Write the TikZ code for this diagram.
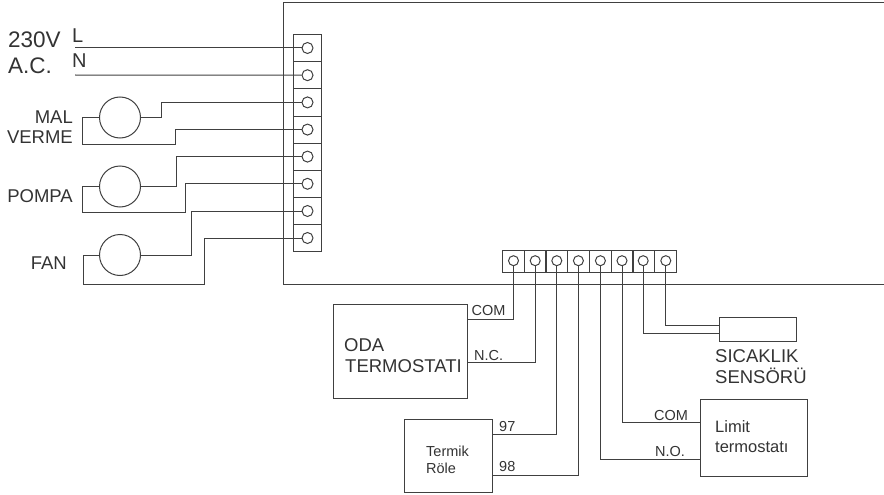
\documentclass[tikz,border=0pt]{standalone}
\usepackage{fontspec}
\setmainfont{Liberation Sans}
\definecolor{wire}{gray}{0.25}
\tikzset{
  wiring/.style={draw=wire,line width=1pt},
  cell/.style={draw=wire,line width=1pt,inner sep=0pt},
  term/.style={circle,draw=wire,line width=1pt,fill=white,inner sep=0pt,minimum size=11pt},
  box/.style={draw=wire,line width=1pt,inner sep=0pt},
  motor/.style={circle,draw=wire,line width=1pt,inner sep=0pt,minimum size=41pt},
  lab/.style={inner sep=0pt,text=black!80,align=left,font=\fontsize{18.5}{22}\selectfont},
  biglab/.style={inner sep=0pt,text=black!80,align=left,font=\fontsize{22.5}{26}\selectfont},
  small/.style={inner sep=0pt,text=black!80,font=\fontsize{14.5}{17}\selectfont},
}
\begin{document}
\begin{tikzpicture}[x=1pt,y=-1pt]
        \useasboundingbox (0,0) rectangle (884,495);
        % ana kutu
        \draw[wiring] (884,3) -- (283,3) -- (283,284.5) -- (884,284.5);
        % sol klemens
        \foreach \i/\y in {1/48,2/75.2,3/102.4,4/129.6,5/156.6,6/183.8,7/211,8/238}{
          \node[cell,minimum width=27.5pt,minimum height=27.2pt] (c\i) at (307.5,\y) {};
          \node[term] (t\i) at (307.5,\y) {};
        }
        % alt klemens
        \foreach \i/\x/\c in {1/513.5/513.4,2/535.2/535,3/556.8/557,4/578.4/578.8,5/600.4/600.7,6/622/622.2,7/643.2/643.4,8/665.8/665.4}{
          \node[cell,minimum width=21.75pt,minimum height=22pt] (b\i) at (\c,261) {};
          \node[term,minimum size=10pt] (s\i) at (\x,260.7) {};
        }
        % motorlar
        \node[motor] (mal) at (120,117.5) {};
        \node[motor] (pompa) at (120,186.5) {};
        \node[motor] (fan) at (120,255) {};
        % kutular
        \node[box,minimum width=134pt,minimum height=94pt] (oda) at (400,351) {};
        \node[box,minimum width=88pt,minimum height=73pt] (termik) at (448,455.5) {};
        \node[box,minimum width=77pt,minimum height=24pt] (sensor) at (757.5,329) {};
        \node[box,minimum width=107pt,minimum height=77pt] (limit) at (753.5,437.5) {};
        % besleme
        \coordinate (lfree) at (75,48);
        \coordinate (nfree) at (75,75);
        \draw[wiring] (lfree) -- (t1.west);
        \draw[wiring] (nfree) -- (t2.west);
        % motor baglantilari
        \draw[wiring] (mal.east) -- (161.5,117.5) |- (t3.west);
        \draw[wiring] (mal.west) -- (82.5,117.5) |- (175.5,144) |- (t4.west);
        \draw[wiring] (pompa.east) -- (176,186.5) |- (t5.west);
        \draw[wiring] (pompa.west) -- (82,186.5) |- (185,212.5) |- (t6.west);
        \draw[wiring] (fan.east) -- (191,255) |- (t7.west);
        \draw[wiring] (fan.west) -- (83,255) |- (204,284.5) |- (t8.west);
        % alt baglantilar
        \draw[wiring] (s1.south) |- ([yshift=31.3pt]oda.east);
        \draw[wiring] (s2.south) |- ([yshift=-11.7pt]oda.east);
        \draw[wiring] (s3.south) |- ([yshift=21.5pt]termik.east);
        \draw[wiring] (s4.south) |- ([yshift=-19.5pt]termik.east);
        \draw[wiring] (s5.south) |- ([yshift=-21.5pt]limit.west);
        \draw[wiring] (s6.south) |- ([yshift=15.5pt]limit.west);
        \draw[wiring] (s7.south) |- ([yshift=-4pt]sensor.west);
        \draw[wiring] (s8.south) |- ([yshift=4pt]sensor.west);
        % yazilar
        \node[biglab,anchor=base west] (v230) at (8,48) {230V};
        \node[biglab,anchor=base west] (ac) at (8,73.5) {A.C.};
        \node[biglab,anchor=base west,font=\fontsize{20}{24}\selectfont] (lL) at (72,43) {L};
        \node[biglab,anchor=base west,font=\fontsize{20}{24}\selectfont] (lN) at (72,68) {N};
        \node[lab,anchor=base east] (lmal) at (73,123) {MAL};
        \node[lab,anchor=base east] (lverme) at (73,143) {VERME};
        \node[lab,anchor=base east] (lpompa) at (73,202) {POMPA};
        \node[lab,anchor=base east] (lfan) at (67,269) {FAN};
        \node[lab,anchor=base west] (loda) at (344,351) {ODA};
        \node[lab,anchor=base west] (ltermo) at (345,372) {TERMOSTATI};
        \node[lab,anchor=base west] (lsic) at (715,362) {SICAKLIK};
        \node[lab,anchor=base west] (lsen) at (715,383) {SENSÖRÜ};
        \node[small,anchor=base west] (ocom) at (471.5,315) {COM};
        \node[small,anchor=base west] (onc) at (474,360) {N.C.};
        \node[small,anchor=base west] (l97) at (499,431) {97};
        \node[small,anchor=base west] (l98) at (499,471) {98};
        \node[small,anchor=base west] (ltermik) at (426,456) {Termik};
        \node[small,anchor=base west] (lrole) at (426,473) {Röle};
        \node[small,anchor=base west] (lcom) at (654,420) {COM};
        \node[small,anchor=base west] (lno) at (655,456) {N.O.};
        \node[small,anchor=base west,font=\fontsize{16.5}{20}\selectfont] (llim) at (715,432) {Limit};
        \node[small,anchor=base west,font=\fontsize{16.5}{20}\selectfont] (lter) at (715,452) {termostatı};
\end{tikzpicture}
\end{document}
